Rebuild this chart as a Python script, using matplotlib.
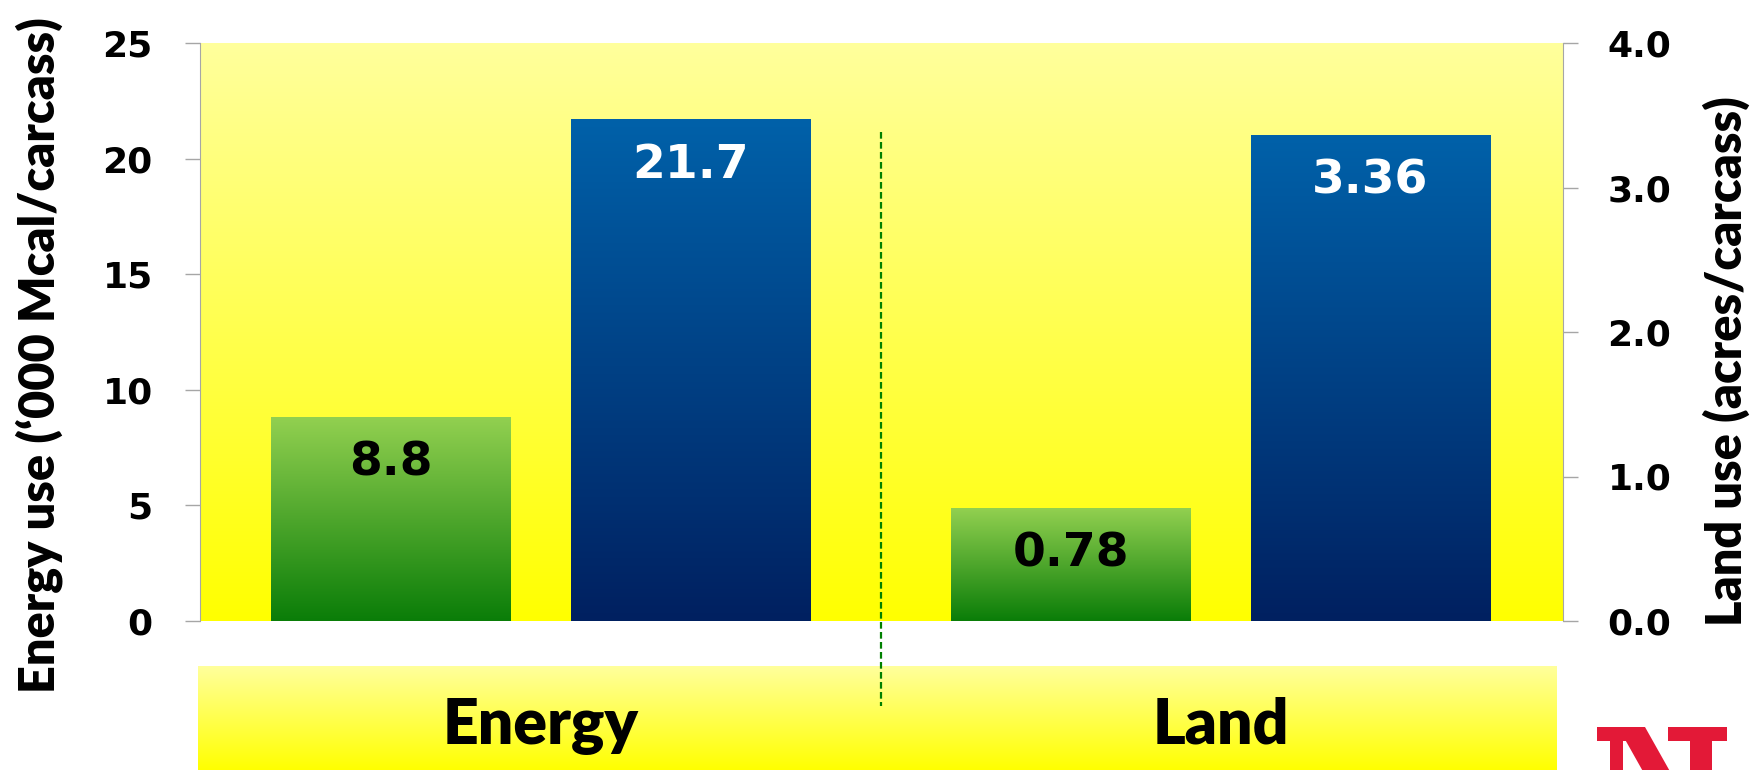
import numpy as np
import matplotlib
matplotlib.use("Agg")
import matplotlib.pyplot as plt
from matplotlib.colors import LinearSegmentedColormap
from matplotlib.patches import Polygon
from matplotlib.transforms import blended_transform_factory

# data
groups = ["Energy", "Land"]
energy_vals = [8.8, 21.7]
land_vals = [0.78, 3.36]
energy_labels = ["8.8", "21.7"]
land_labels = ["0.78", "3.36"]
left_ticks = [0, 5, 10, 15, 20, 25]
right_ticks = [0.0, 1.0, 2.0, 3.0, 4.0]

energy_x = [0, 1]
land_x = [2.27, 3.27]
bar_w = 0.80

W, H = 1763, 770

bg_cmap = LinearSegmentedColormap.from_list("bg", ["#FFFF00", "#FFFF9C"])
green_cmap = LinearSegmentedColormap.from_list("gr", ["#0A7D08", "#92D050"])
blue_cmap = LinearSegmentedColormap.from_list("bl", ["#002060", "#0061A9"])
grad = np.linspace(0, 1, 256).reshape(-1, 1)

fig = plt.figure(figsize=(W / 100, H / 100), dpi=100)

# yellow band with category names (created first so the divider sits on top)
band = fig.add_axes([198 / W, 0, 1359 / W, 104 / H])
band.imshow(grad, cmap=bg_cmap, origin="lower", extent=[0, 1, 0, 1], aspect="auto")
band.set_xlim(0, 1)
band.set_ylim(0, 1)
band.axis("off")

ax = fig.add_axes([200 / W, 1 - 621 / H, 1363 / W, 578 / H])
ax.imshow(grad, cmap=bg_cmap, origin="lower", extent=[0, 1, 0, 1],
          transform=ax.transAxes, aspect="auto", zorder=0)
ax2 = ax.twinx()


def gradient_bars(axis, xs, vals, cmaps):
    bars = axis.bar(xs, vals, width=bar_w, facecolor="none", edgecolor="none", zorder=2)
    for b, cm in zip(bars, cmaps):
        x0, w, h = b.get_x(), b.get_width(), b.get_height()
        axis.imshow(grad, cmap=cm, origin="lower", extent=[x0, x0 + w, 0, h],
                    aspect="auto", zorder=2)
    return bars


gradient_bars(ax, energy_x, energy_vals, [green_cmap, blue_cmap])
gradient_bars(ax2, land_x, land_vals, [green_cmap, blue_cmap])

xlim = (-0.637, 3.913)
ax.set_xlim(*xlim)
ax2.set_xlim(*xlim)
ax.set_ylim(0, 25)
ax2.set_ylim(0, 4)

# value labels
val_font = dict(family="DejaVu Sans", fontweight="bold", fontsize=34, ha="center", va="center")
for x, v, s, c in zip(energy_x, energy_vals, energy_labels, ["black", "white"]):
    ax.annotate(s, (x, v), xytext=(0, -33), textcoords="offset points", color=c, zorder=5, **val_font)
for x, v, s, c in zip(land_x, land_vals, land_labels, ["black", "white"]):
    ax2.annotate(s, (x, v), xytext=(0, -33), textcoords="offset points", color=c, zorder=5, **val_font)

# axes styling
grey = "#A6A6A6"
ax.set_xticks([])
ax.set_yticks(left_ticks, labels=[str(t) for t in left_ticks],
              family="DejaVu Sans", fontweight="bold", fontsize=26)
ax2.set_yticks(right_ticks, labels=[f"{t:.1f}" for t in right_ticks],
               family="DejaVu Sans", fontweight="bold", fontsize=26)
ax.tick_params(axis="y", length=11, width=1, color=grey, pad=23)
ax2.tick_params(axis="y", length=11, width=1, color=grey, pad=21)
for s in ["top", "bottom", "right"]:
    ax.spines[s].set_visible(False)
for s in ["top", "bottom", "left"]:
    ax2.spines[s].set_visible(False)
ax.spines["left"].set_color(grey)
ax2.spines["right"].set_color(grey)

# dashed divider between the two groups
mid = (energy_x[1] + land_x[0]) / 2
ax.plot([mid, mid], [21.15, -3.68], color="#008000", lw=1.6, ls=(0, (3, 1.5)),
        clip_on=False, zorder=6)

# axis titles
fig.text(39 / W, 1 - 355 / H, "Energy use (\u2018000 Mcal/carcass)", rotation=90,
         ha="center", va="center", family="Lato", fontweight="heavy", fontsize=35)
fig.text(1726 / W, 1 - 361 / H, "Land use (acres/carcass)", rotation=90,
         ha="center", va="center", family="Lato", fontweight="heavy", fontsize=35)

# category names in the band
tr = blended_transform_factory(ax.transData, fig.transFigure)
for x, g in zip([np.mean(energy_x), np.mean(land_x)], groups):
    fig.text(x, 1 - 744 / H, g, transform=tr, ha="center", va="baseline",
             family="Lato", fontweight="heavy", fontsize=45)

# university logo (block N), cut off by the bottom edge of the slide
logo_parts = [
    [(1597, 727), (1643, 727), (1643, 741), (1597, 741)],          # left serif
    [(1610, 741), (1623, 741), (1623, 775), (1610, 775)],          # left stem
    [(1618, 727), (1645, 727), (1672, 775), (1645, 775)],          # diagonal
    [(1668, 727), (1727, 727), (1727, 741), (1668, 741)],          # right serif
    [(1690, 741), (1712, 741), (1712, 775), (1690, 775)],          # right stem
]
for pts in logo_parts:
    fig.patches.append(Polygon([(x / W, 1 - y / H) for x, y in pts], closed=True,
                               transform=fig.transFigure, facecolor="#E31937",
                               edgecolor="none"))

fig.savefig("out.png", dpi=100)
